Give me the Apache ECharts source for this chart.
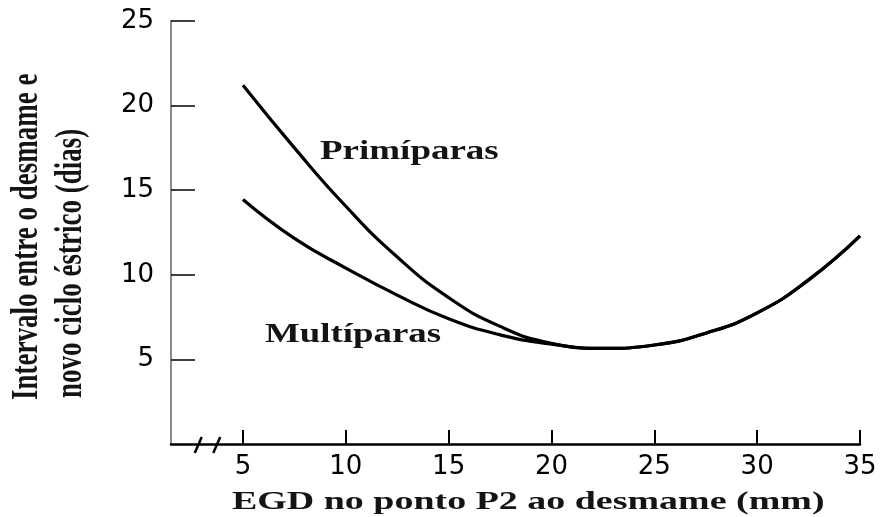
<!DOCTYPE html>
<html>
<head>
<meta charset="utf-8">
<script src="https://cdn.jsdelivr.net/npm/echarts@6/dist/echarts.min.js"></script>
<style>
html,body{margin:0;padding:0;background:#fff;}
#chart{width:885px;height:517px;}
</style>
</head>
<body>
<div id="chart"></div>
<script>
// ---- data ----
const xValues = [5, 7.5, 10, 12.5, 15, 17.5, 20, 22.5, 25, 27.5, 30, 32.5, 35];
const primiparas = [21.2, 17.5, 14.05, 11.05, 8.65, 6.95, 5.95, 5.65, 5.85, 6.55, 7.75, 9.7, 12.3];
const multiparas = [14.45, 12.15, 10.4, 8.8, 7.4, 6.45, 5.9, 5.65, 5.85, 6.55, 7.75, 9.7, 12.3];
const xTickLabels = [5, 10, 15, 20, 25, 30, 35];
const yTickLabels = [5, 10, 15, 20, 25];
const seriesNames = ['Primíparas', 'Multíparas'];
const xTitle = 'EGD no ponto P2 ao desmame (mm)';
const yTitleLines = ['Intervalo entre o desmame e', 'novo ciclo éstrico (dias)'];

const toPairs = (ys) => xValues.map((x, i) => [x, ys[i]]);

const chart = echarts.init(document.getElementById('chart'));
const option = {
  backgroundColor: '#ffffff',
  animation: false,
  grid: { left: 171, right: 25, top: 21, bottom: 73, containLabel: false, outerBoundsMode: 'none' },
  xAxis: {
    type: 'value', min: 1.5, max: 35,
    axisLine: { show: true, lineStyle: { color: '#000', width: 2.5 } },
    axisTick: { show: true, inside: true, length: 14, customValues: xTickLabels, lineStyle: { color: '#000', width: 2 } },
    axisLabel: { show: true, customValues: xTickLabels, margin: 10, color: '#000',
      fontFamily: 'DejaVu Sans', fontSize: 26 },
    splitLine: { show: false }
  },
  yAxis: {
    type: 'value', min: 0, max: 25,
    axisLine: { show: true, lineStyle: { color: '#8a8a8a', width: 2 } },
    axisTick: { show: true, inside: true, length: 24, customValues: yTickLabels, lineStyle: { color: '#111', width: 1.6 } },
    axisLabel: { show: true, customValues: yTickLabels, margin: 17, color: '#000',
      fontFamily: 'DejaVu Sans', fontSize: 26 },
    splitLine: { show: false }
  },
  series: [
    { name: seriesNames[0], type: 'line', data: toPairs(primiparas), smooth: true, symbol: 'none',
      lineStyle: { color: '#000', width: 3.2 } },
    { name: seriesNames[1], type: 'line', data: toPairs(multiparas), smooth: true, symbol: 'none',
      lineStyle: { color: '#000', width: 3.2 } }
  ]
};
chart.setOption(option);

// axis break marks on the x axis, placed through the axis scale
const b1 = chart.convertToPixel({ gridIndex: 0 }, [2.8, 0]);
const b2 = chart.convertToPixel({ gridIndex: 0 }, [3.7, 0]);
const titleFont = 'bold 27px "Liberation Serif"';
chart.setOption({
  graphic: [
    { type: 'line', shape: { x1: b1[0] - 3, y1: b1[1] + 9, x2: b1[0] + 4, y2: b1[1] - 7 },
      style: { stroke: '#000', lineWidth: 2.5 } },
    { type: 'line', shape: { x1: b2[0] - 3, y1: b2[1] + 9, x2: b2[0] + 4, y2: b2[1] - 7 },
      style: { stroke: '#000', lineWidth: 2.5 } },
    { type: 'text', x: 27, y: 400, rotation: Math.PI / 2, scaleY: 1.4,
      style: { text: yTitleLines[0], font: titleFont, fill: '#141414', align: 'left', verticalAlign: 'middle' } },
    { type: 'text', x: 71, y: 398, rotation: Math.PI / 2, scaleY: 1.4,
      style: { text: yTitleLines[1], font: titleFont, fill: '#141414', align: 'left', verticalAlign: 'middle' } },
    { type: 'text', x: 232, y: 502, scaleX: 1.46,
      style: { text: xTitle, font: 'bold 26px "Liberation Serif"', fill: '#141414', align: 'left', verticalAlign: 'middle' } },
    { type: 'text', x: 320, y: 152, scaleX: 1.37,
      style: { text: seriesNames[0], font: titleFont, fill: '#141414', align: 'left', verticalAlign: 'middle' } },
    { type: 'text', x: 265, y: 335, scaleX: 1.365,
      style: { text: seriesNames[1], font: titleFont, fill: '#141414', align: 'left', verticalAlign: 'middle' } }
  ]
});
</script>
</body>
</html>
